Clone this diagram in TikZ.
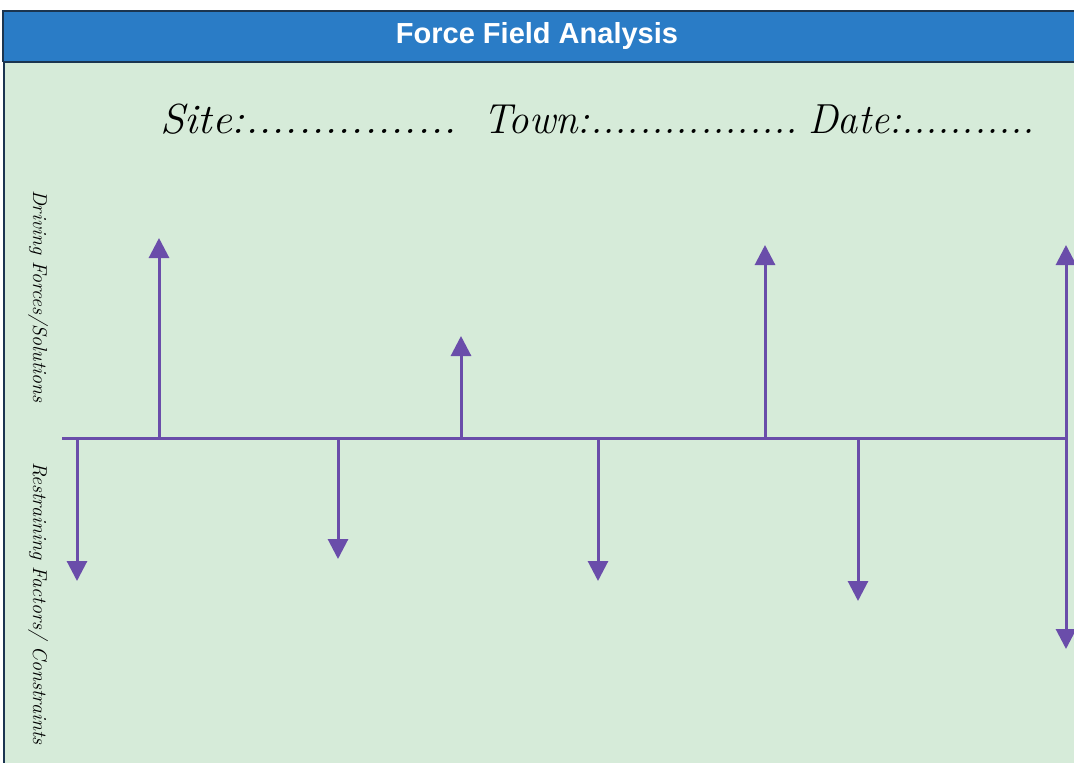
\documentclass[tikz,border=0pt]{standalone}
\usepackage{fontspec}
\usetikzlibrary{arrows.meta}
\definecolor{bg}{HTML}{D6EBD9}
\definecolor{barblue}{HTML}{2A7CC6}
\definecolor{barline}{HTML}{1B3550}
\definecolor{force}{HTML}{6A4DAA}
\newfontfamily\hdrfont{Liberation Sans}
\tikzset{
  forcearrow/.style={draw=force, line width=3pt, -{Triangle[width=20pt,length=20pt]}},
  axisline/.style={draw=force, line width=3pt},
  fieldlabel/.style={font=\fontsize{42}{48}\selectfont\itshape, anchor=base west, inner sep=0pt, text=black},
  sidelabel/.style={font=\fontsize{20}{24}\selectfont\itshape, rotate=-90, inner sep=0pt, text=black}
}
\begin{document}
\begin{tikzpicture}[x=1pt,y=-1pt]
\useasboundingbox (0,0) rectangle (1074,763);
\fill[white] (0,0) rectangle (1074,763);
\fill[bg] (3,62) rectangle (1074,763);
\draw[barline, line width=2pt] (4,62) -- (4,763);
\fill[barblue] (3,10) rectangle (1074,62);
\draw[barline, line width=2pt] (3,11) -- (1074,11);
\draw[barline, line width=2.5pt] (3,62) -- (1074,62);
\draw[barline, line width=1.5pt] (3,10) -- (3,62);
\node[font=\hdrfont\bfseries\fontsize{29}{32}\selectfont, text=white] (title) at (537,36) {Force Field Analysis};

\node[fieldlabel, xscale=1.05] (site) at (160,133) {Site:................};
\node[fieldlabel, xscale=0.97] (town) at (483,133) {Town:.................};
\node[fieldlabel, xscale=0.96] (date) at (808,133) {Date:...........};

\node[sidelabel, anchor=west] (driving) at (38,190) {Driving Forces/Solutions};
\node[sidelabel, anchor=west] (restraining) at (38,462) {Restraining Factors/ Constraints};

\coordinate (axL) at (62,438);
\coordinate (axR) at (1068,438);
\draw[axisline] (axL) -- (axR);

\coordinate (b1) at (77,438);  \coordinate (e1) at (77,581);
\coordinate (b2) at (159,438); \coordinate (e2) at (159,238);
\coordinate (b3) at (338,438); \coordinate (e3) at (338,559);
\coordinate (b4) at (461,438); \coordinate (e4) at (461,336);
\coordinate (b5) at (598,438); \coordinate (e5) at (598,581);
\coordinate (b6) at (765,438); \coordinate (e6) at (765,245);
\coordinate (b7) at (858,438); \coordinate (e7) at (858,601);
\coordinate (t8) at (1066,245); \coordinate (e8) at (1066,649);

\draw[forcearrow] (b1) -- (e1);
\draw[forcearrow] (b2) -- (e2);
\draw[forcearrow] (b3) -- (e3);
\draw[forcearrow] (b4) -- (e4);
\draw[forcearrow] (b5) -- (e5);
\draw[forcearrow] (b6) -- (e6);
\draw[forcearrow] (b7) -- (e7);
\draw[forcearrow, {Triangle[width=20pt,length=20pt]}-{Triangle[width=20pt,length=20pt]}] (t8) -- (e8);
\end{tikzpicture}
\end{document}
